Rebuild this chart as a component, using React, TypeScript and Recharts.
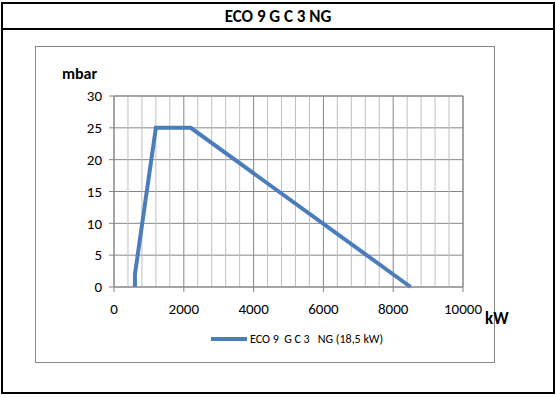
import { LineChart, Line, XAxis, YAxis, CartesianGrid, ReferenceLine } from "recharts";

const title = "ECO 9 G C 3 NG";
const seriesName = "ECO 9  G C 3   NG (18,5 kW)";
const power = [600, 600, 1200, 2200, 8500];
const pressure = [0, 2, 25, 25, 0];
const xTicks = [0, 2000, 4000, 6000, 8000, 10000];
const yTicks = [0, 5, 10, 15, 20, 25, 30];
const xMinor = [400, 800, 1200, 1600, 2400, 2800, 3200, 3600, 4400, 4800, 5200, 5600, 6400, 6800, 7200, 7600, 8400, 8800, 9200, 9600];

const data = power.map((kw, i) => ({ kw, mbar: pressure[i] }));

const font = "Carlito, 'Open Sans', 'Liberation Sans', sans-serif";

export default function App() {
  return (
    <div style={{ position: "absolute", left: 0, top: 0, width: 556, height: 397, background: "#fff", fontFamily: font }}>
      <div style={{ position: "absolute", left: 1, top: 2, width: 550, height: 388, border: "2px solid #000" }} />
      <div style={{ position: "absolute", left: 1, top: 28, width: 554, height: 2, background: "#000" }} />
      <div style={{ position: "absolute", left: 0, top: 5, width: 556, height: 24, lineHeight: "24px", textAlign: "center", fontWeight: 700, fontSize: 17 }}>
        {title}
      </div>
      <div style={{ position: "absolute", left: 35, top: 46, width: 458, height: 315, border: "1px solid #868686" }} />
      <div style={{ position: "absolute", left: 62, top: 64, fontWeight: 700, fontSize: 16 }}>mbar</div>
      <div style={{ position: "absolute", left: 485, top: 308, fontWeight: 700, fontSize: 17 }}>kW</div>
      <div style={{ position: "absolute", left: 0, top: 0 }}>
        <LineChart width={556} height={397} data={data} margin={{ top: 96, right: 93, bottom: 80, left: 64 }}>
          <CartesianGrid stroke="#868686" strokeWidth={1} />
          {xMinor.map((v) => (
            <ReferenceLine key={v} x={v} stroke="#bfbfbf" strokeWidth={1} ifOverflow="visible" />
          ))}
          <ReferenceLine x={10000} stroke="#868686" />
          <ReferenceLine y={30} stroke="#868686" />
          <XAxis
            dataKey="kw"
            type="number"
            domain={[0, 10000]}
            ticks={xTicks}
            height={30}
            tickSize={5}
            tickMargin={11}
            stroke="#868686"
            tick={{ fill: "#000", fontSize: 15, fontFamily: font }}
          />
          <YAxis
            type="number"
            domain={[0, 30]}
            ticks={yTicks}
            width={50}
            tickSize={5}
            tickMargin={7}
            stroke="#868686"
            tick={{ fill: "#000", fontSize: 15, fontFamily: font }}
          />
          <Line dataKey="mbar" stroke="#4a7ebb" strokeWidth={4} dot={false} isAnimationActive={false} />
        </LineChart>
      </div>
      <div style={{ position: "absolute", left: 211, top: 332, display: "flex", alignItems: "center", fontSize: 12, whiteSpace: "pre" }}>
        <span style={{ display: "inline-block", width: 36, height: 4, background: "#4a7ebb", marginRight: 3 }} />
        <span>{seriesName}</span>
      </div>
    </div>
  );
}
